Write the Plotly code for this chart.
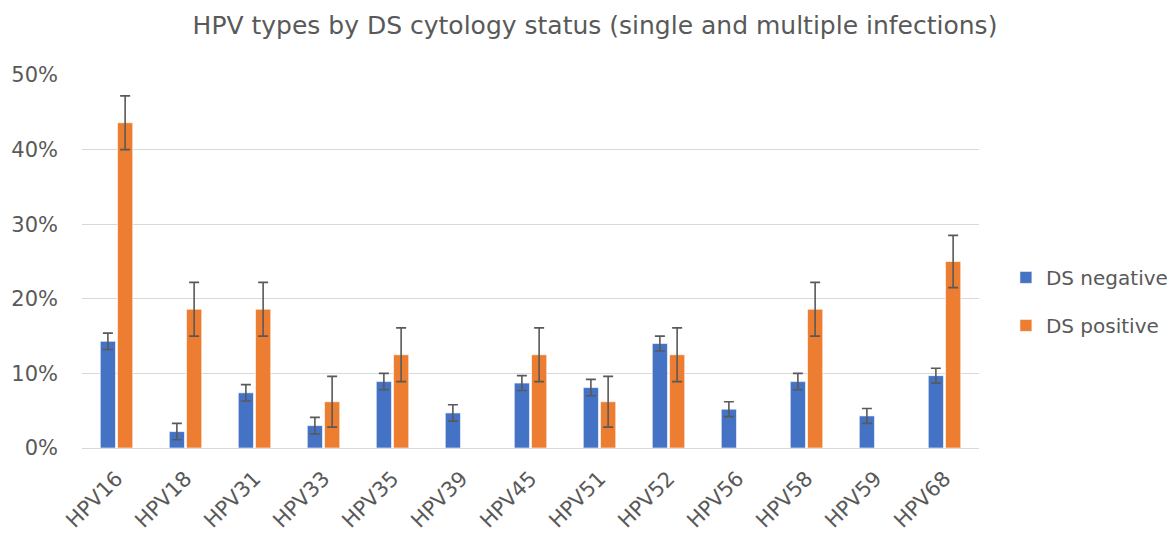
import plotly.graph_objects as go

categories = ["HPV16", "HPV18", "HPV31", "HPV33", "HPV35", "HPV39", "HPV45",
              "HPV51", "HPV52", "HPV56", "HPV58", "HPV59", "HPV68"]
neg_values = [14.3, 2.2, 7.4, 3.0, 8.9, 4.7, 8.7, 8.1, 14.0, 5.2, 8.9, 4.3, 9.7]
neg_err = [1.1, 1.1, 1.1, 1.1, 1.1, 1.1, 1.0, 1.1, 1.0, 1.0, 1.1, 1.0, 1.0]
pos_values = [43.6, 18.6, 18.6, 6.2, 12.5, None, 12.5, 6.2, 12.5, None, 18.6, None, 25.0]
pos_err = [3.6, 3.6, 3.6, 3.4, 3.6, None, 3.6, 3.4, 3.6, None, 3.6, None, 3.5]

neg_color = "#4472C4"
pos_color = "#ED7D31"
err_color = "#595959"
text_color = "#595959"
font_family = "DejaVu Sans, Open Sans, sans-serif"

fig = go.Figure()
fig.add_trace(go.Bar(
    name="DS negative", x=categories, y=neg_values, legendgroup="neg",
    marker=dict(color=neg_color, line=dict(color="white", width=0.6)),
    error_y=dict(type="data", array=neg_err, color=err_color, thickness=1.6, width=5),
))
fig.add_trace(go.Bar(
    name="DS positive", x=categories, y=pos_values, legendgroup="pos",
    marker=dict(color=pos_color, line=dict(color="white", width=0.6)),
    error_y=dict(type="data", array=pos_err, color=err_color, thickness=1.6, width=5),
))

fig.update_layout(
    width=1167, height=533,
    paper_bgcolor="white", plot_bgcolor="white",
    margin=dict(l=74, r=196, t=67, b=93, autoexpand=False),
    barmode="group", bargap=0.5, bargroupgap=0.12,
    title=dict(text="HPV types by DS cytology status (single and multiple infections)",
               x=0.503, xanchor="center", y=0.967, yanchor="middle",
               font=dict(family=font_family, size=25, color=text_color)),
    font=dict(family=font_family, color=text_color),
    legend=dict(x=1.03, xanchor="left", y=0.393, yanchor="middle",
                font=dict(size=20, color=text_color), tracegroupgap=19,
                traceorder="grouped", itemclick=False),
    showlegend=True,
)
fig.update_xaxes(tickangle=-45, tickfont=dict(size=21, color=text_color),
                 showgrid=False, showline=False, ticks="", ticklabelstandoff=13,
                 automargin=False)
fig.update_yaxes(range=[0, 50], dtick=10, ticksuffix="%",
                 tickfont=dict(size=21, color=text_color),
                 showgrid=True, gridcolor="#D9D9D9", gridwidth=1.3,
                 zeroline=True, zerolinecolor="#D9D9D9", zerolinewidth=1.3,
                 ticks="", ticklabelstandoff=23, automargin=False)

fig.write_html("out.html")
